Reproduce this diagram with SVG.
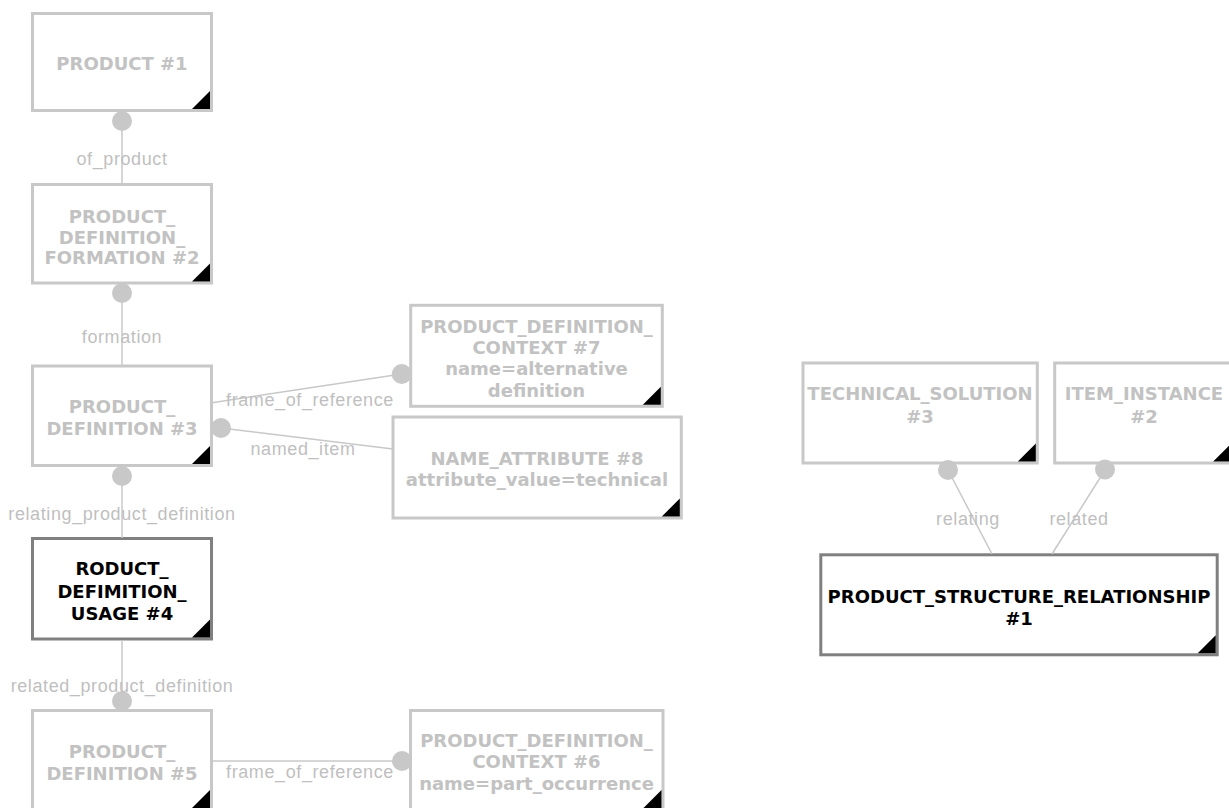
<svg xmlns="http://www.w3.org/2000/svg" width="1229" height="808" viewBox="0 0 1229 808">
<style>
  .box { fill: #ffffff; stroke: #c8c8c8; stroke-width: 3; }
  .box.sel { stroke: #808080; }
  .tri { fill: #000000; }
  .nt { font-family: "DejaVu Sans", "Liberation Sans", sans-serif; font-weight: bold; font-size: 18px; fill: #c2c2c2; text-anchor: middle; }
  .nt.sel { fill: #000000; }
  .conn line { stroke: #c8c8c8; stroke-width: 1.5; }
  .conn circle { fill: #c8c8c8; }
  .el { font-family: "Liberation Sans", Arial, sans-serif; font-size: 18px; letter-spacing: 0.6px; fill: #bfbfbf; text-anchor: middle; }
</style>
<rect width="1229" height="808" fill="#ffffff"/>

<g id="product1">
  <rect class="box" x="32.5" y="13.5" width="179" height="97"/>
  <polygon class="tri" points="192,109 210,91 210,109"/>
  <text class="nt" x="122" y="69.5">PRODUCT #1</text>
</g>

<g id="pdf2">
  <rect class="box" x="32.5" y="184.5" width="179" height="98.5"/>
  <polygon class="tri" points="192,281.5 210,263.5 210,281.5"/>
  <text class="nt" x="122" y="222.5">PRODUCT_</text>
  <text class="nt" x="122" y="243.5">DEFINITION_</text>
  <text class="nt" x="122" y="263.5">FORMATION #2</text>
</g>

<g id="pd3">
  <rect class="box" x="32.5" y="366" width="179" height="99.5"/>
  <polygon class="tri" points="192,464 210,446 210,464"/>
  <text class="nt" x="122" y="413">PRODUCT_</text>
  <text class="nt" x="122" y="435">DEFINITION #3</text>
</g>

<g id="pdu4">
  <rect class="box sel" x="32.5" y="538.5" width="179" height="100.5"/>
  <polygon class="tri" points="192,637.5 210,619.5 210,637.5"/>
  <text class="nt sel" x="122" y="575">RODUCT_</text>
  <text class="nt sel" x="122" y="598">DEFIMITION_</text>
  <text class="nt sel" x="122" y="619.5">USAGE #4</text>
</g>

<g id="pd5">
  <rect class="box" x="32.5" y="710.5" width="179" height="99"/>
  <polygon class="tri" points="192,808 210,790 210,808"/>
  <text class="nt" x="122" y="758">PRODUCT_</text>
  <text class="nt" x="122" y="780">DEFINITION #5</text>
</g>

<g id="pdc7">
  <rect class="box" x="410.7" y="305.3" width="251.6" height="101"/>
  <polygon class="tri" points="642.8,404.8 660.8,386.8 660.8,404.8"/>
  <text class="nt" x="536.5" y="332.5">PRODUCT_DEFINITION_</text>
  <text class="nt" x="536.5" y="353.5">CONTEXT #7</text>
  <text class="nt" x="536.5" y="375">name=alternative</text>
  <text class="nt" x="536.5" y="396.5">definition</text>
</g>

<g id="na8">
  <rect class="box" x="393" y="417" width="288.3" height="101"/>
  <polygon class="tri" points="661.8,516.5 679.8,498.5 679.8,516.5"/>
  <text class="nt" x="537" y="465">NAME_ATTRIBUTE #8</text>
  <text class="nt" x="537" y="486">attribute_value=technical</text>
</g>

<g id="pdc6">
  <rect class="box" x="410.5" y="710.5" width="252.5" height="99"/>
  <polygon class="tri" points="643.5,808 661.5,790 661.5,808"/>
  <text class="nt" x="536.5" y="746.5">PRODUCT_DEFINITION_</text>
  <text class="nt" x="536.5" y="768">CONTEXT #6</text>
  <text class="nt" x="536.5" y="790">name=part_occurrence</text>
</g>

<g id="ts3">
  <rect class="box" x="803" y="363" width="234.3" height="100"/>
  <polygon class="tri" points="1017.8,461.5 1035.8,443.5 1035.8,461.5"/>
  <text class="nt" x="920" y="400">TECHNICAL_SOLUTION</text>
  <text class="nt" x="920" y="423">#3</text>
</g>

<g id="ii2">
  <rect class="box" x="1054.7" y="363" width="178" height="100"/>
  <polygon class="tri" points="1213.2,461.5 1231.2,443.5 1231.2,461.5"/>
  <text class="nt" x="1144" y="400">ITEM_INSTANCE</text>
  <text class="nt" x="1144" y="423">#2</text>
</g>

<g id="psr1">
  <rect class="box sel" x="820.8" y="554.8" width="396.4" height="100"/>
  <polygon class="tri" points="1197.7,653.3 1215.7,635.3 1215.7,653.3"/>
  <text class="nt sel" x="1019" y="603">PRODUCT_STRUCTURE_RELATIONSHIP</text>
  <text class="nt sel" x="1019" y="625">#1</text>
</g>

<g id="connectors" class="conn">
  <line x1="122" y1="121" x2="122" y2="183"/>
  <circle cx="122" cy="121" r="10"/>
  <text class="el" x="122" y="165">of_product</text>

  <line x1="122" y1="293" x2="122" y2="366"/>
  <circle cx="122" cy="293" r="10"/>
  <text class="el" x="122" y="342.5">formation</text>

  <line x1="212" y1="402.7" x2="401.7" y2="374"/>
  <circle cx="401.7" cy="374" r="10"/>
  <text class="el" x="310" y="405.5">frame_of_reference</text>

  <line x1="221" y1="428" x2="393" y2="449"/>
  <circle cx="221" cy="428" r="10"/>
  <text class="el" x="303" y="455">named_item</text>

  <line x1="122" y1="476" x2="122" y2="538"/>
  <circle cx="122" cy="476" r="10"/>
  <text class="el" x="122" y="520">relating_product_definition</text>

  <line x1="122" y1="640" x2="122" y2="701"/>
  <circle cx="122" cy="701" r="10"/>
  <text class="el" x="122" y="692">related_product_definition</text>

  <line x1="212" y1="761" x2="402" y2="761"/>
  <circle cx="402" cy="761" r="10"/>
  <text class="el" x="310" y="778">frame_of_reference</text>

  <line x1="948" y1="470" x2="992" y2="554"/>
  <circle cx="948" cy="470" r="10"/>
  <text class="el" x="968" y="525">relating</text>

  <line x1="1105" y1="470" x2="1052" y2="554"/>
  <circle cx="1105" cy="469.5" r="10"/>
  <text class="el" x="1079" y="525">related</text>
</g>
</svg>
